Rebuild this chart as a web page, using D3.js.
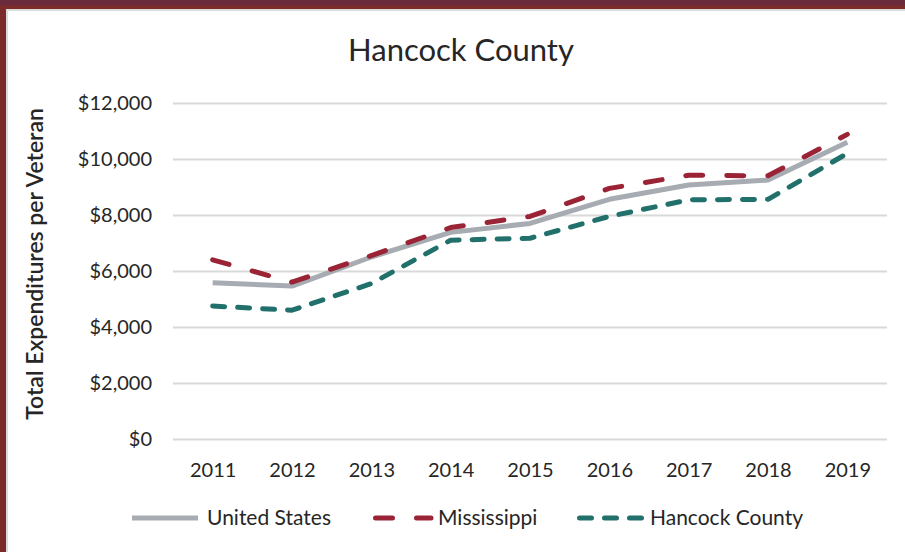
<!DOCTYPE html>
<html>
<head>
<meta charset="utf-8">
<script src="https://cdn.jsdelivr.net/npm/d3@7"></script>
<style>
  body { margin: 0; background: #fff; }
  text { font-family: Lato, "Open Sans", sans-serif; fill: #262626; }
</style>
</head>
<body>
<div id="chart"></div>
<script>
/* CONSTANTS */
const width = 905,
  height = 552,
  margin = { top: 103, bottom: 113, left: 173, right: 18 };

/* DATA */
const years = ["2011", "2012", "2013", "2014", "2015", "2016", "2017", "2018", "2019"];
const unitedStates = [5580, 5460, 6500, 7380, 7700, 8560, 9070, 9250, 10600];
const mississippi = [6400, 5600, 6550, 7550, 7950, 8950, 9420, 9400, 10880];
const hancockCounty = [4750, 4600, 5550, 7100, 7170, 7950, 8540, 8560, 10200];
const yTicks = [0, 2000, 4000, 6000, 8000, 10000, 12000];

const series = [
  { name: "United States", values: unitedStates, color: "#a7abb2", dash: null },
  { name: "Mississippi", values: mississippi, color: "#9a2436", dash: "17,24" },
  { name: "Hancock County", values: hancockCounty, color: "#22706b", dash: "12,13" }
];

const svg = d3.select("#chart")
  .append("svg")
  .attr("width", width)
  .attr("height", height);

// frame
svg.append("rect").attr("x", 0).attr("y", 0).attr("width", width).attr("height", 5).attr("fill", "#6c2a3f");
svg.append("rect").attr("x", 0).attr("y", 5).attr("width", width).attr("height", 4).attr("fill", "#7b2b2a");
svg.append("rect").attr("x", 0).attr("y", 5).attr("width", 6).attr("height", height).attr("fill", "#7b2b2a");
svg.append("rect").attr("x", 6).attr("y", 9).attr("width", width).attr("height", 2).attr("fill", "#dcdcdc");
svg.append("rect").attr("x", 6).attr("y", 9).attr("width", 2).attr("height", height).attr("fill", "#dcdcdc");

/* SCALES */
const x = d3.scalePoint()
  .domain(years)
  .range([margin.left, width - margin.right])
  .padding(0.5);

const y = d3.scaleLinear()
  .domain([0, 12000])
  .range([height - margin.bottom, margin.top]);

// gridlines + y labels
const yAxis = svg.append("g")
  .attr("transform", `translate(${margin.left},0)`)
  .call(d3.axisLeft(y)
    .tickValues(yTicks)
    .tickSize(-(width - margin.left - margin.right))
    .tickPadding(21)
    .tickFormat(d => "$" + d3.format(",")(d)));
yAxis.select(".domain").remove();
yAxis.selectAll(".tick line").attr("stroke", "#d9d9d9").attr("stroke-width", 2);
yAxis.selectAll(".tick text").attr("font-size", 20).attr("fill", "#404040")
  .style("font-family", "Lato, sans-serif");

// x labels
const xAxis = svg.append("g")
  .attr("transform", `translate(0,${height - margin.bottom})`)
  .call(d3.axisBottom(x).tickSize(0).tickPadding(24));
xAxis.select(".domain").remove();
xAxis.selectAll(".tick text").attr("font-size", 20).attr("fill", "#404040")
  .style("font-family", "Lato, sans-serif");

// lines
const line = d3.line()
  .x((d, i) => x(years[i]))
  .y(d => y(d));

svg.selectAll("path.series")
  .data(series)
  .join("path")
  .attr("class", "series")
  .attr("d", d => line(d.values))
  .attr("fill", "none")
  .attr("stroke", d => d.color)
  .attr("stroke-width", 5)
  .attr("stroke-linecap", d => d.dash ? "round" : "butt")
  .attr("stroke-linejoin", "round")
  .attr("stroke-dasharray", d => d.dash);

// title
svg.append("text")
  .attr("x", 461)
  .attr("y", 61)
  .attr("text-anchor", "middle")
  .attr("font-size", 31)
  .text("Hancock County");

// y title
svg.append("text")
  .attr("transform", "translate(43,264) rotate(-90)")
  .attr("text-anchor", "middle")
  .attr("font-size", 23)
  .attr("font-weight", 600)
  .text("Total Expenditures per Veteran");

// legend
const legendItems = [
  { s: series[0], x0: 132, x1: 198, tx: 207 },
  { s: series[1], x0: 375.5, x1: 431, tx: 438 },
  { s: series[2], x0: 579.5, x1: 642, tx: 650 }
];
const legend = svg.append("g");
legendItems.forEach(it => {
  legend.append("line")
    .attr("x1", it.x0).attr("x2", it.x1)
    .attr("y1", 518).attr("y2", 518)
    .attr("stroke", it.s.color)
    .attr("stroke-width", 5)
    .attr("stroke-linecap", it.s.dash ? "round" : "butt")
    .attr("stroke-dasharray", it.s.dash);
  legend.append("text")
    .attr("x", it.tx).attr("y", 525)
    .attr("font-size", 21)
    .text(it.s.name);
});
</script>
</body>
</html>
